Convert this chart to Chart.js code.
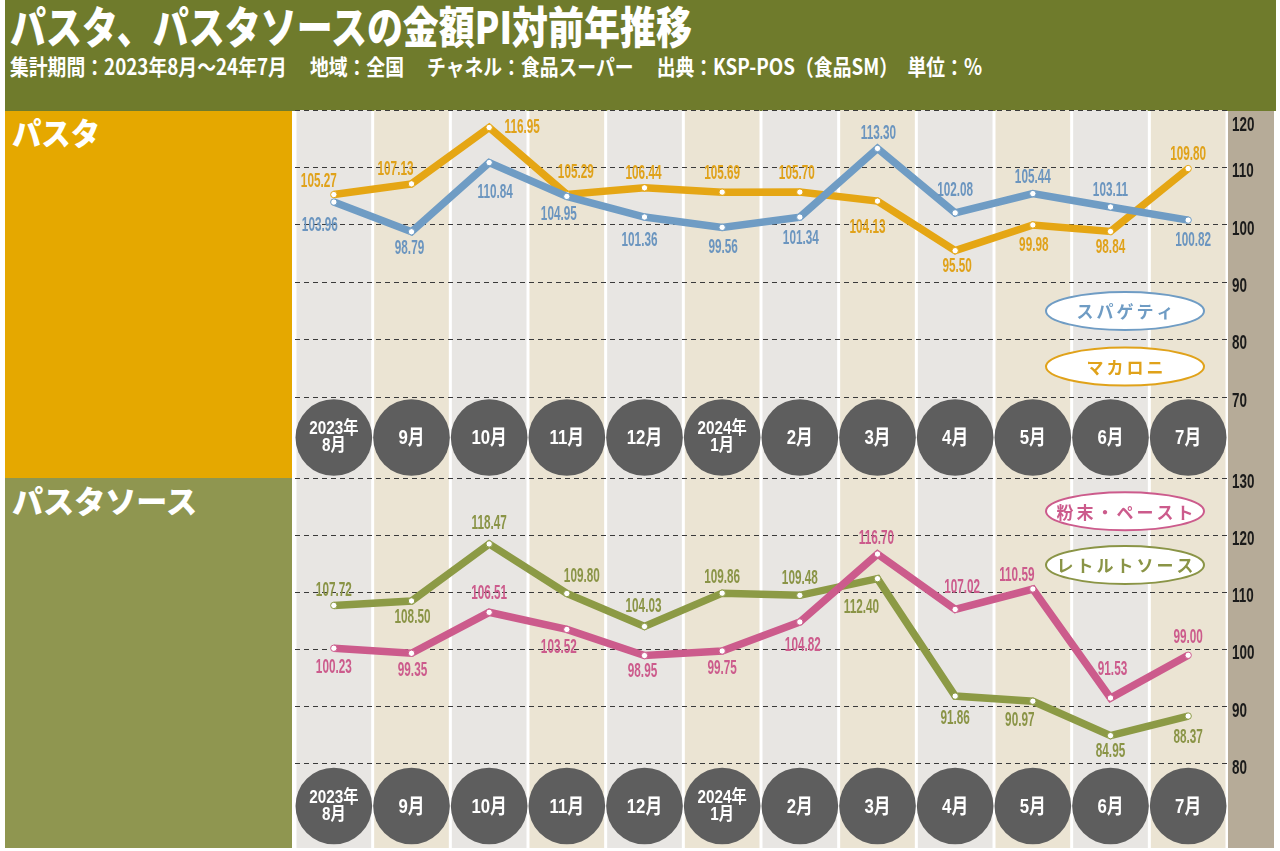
<!DOCTYPE html>
<html><head><meta charset="utf-8">
<script src="https://cdn.jsdelivr.net/npm/chart.js@4.4.1/dist/chart.umd.min.js"></script>
<style>
html,body{margin:0;padding:0}
body{width:1280px;height:851px;background:#fff;position:relative;overflow:hidden;font-family:'Noto Sans CJK JP',sans-serif}
.abs{position:absolute}
#titlebar{left:5px;top:0;width:1271px;height:111px;background:#6f7b2c}
.txt{position:absolute;color:#fff;font-weight:bold;white-space:nowrap;transform-origin:0 0;line-height:1}
#panelA{left:5px;top:111px;width:287px;height:367px;background:#e5a800}
#panelB{left:5px;top:478px;width:287px;height:370px;background:#8f9650}
#axisStrip{left:1228px;top:111px;width:46px;height:737px;background:#b6ab98}
canvas{position:absolute}
</style></head>
<body>
<div id="titlebar" class="abs"></div>
<div id="panelA" class="abs"></div>
<div id="panelB" class="abs"></div>
<div id="axisStrip" class="abs"></div>
<div class="txt" id="t1" data-w="682" style="left:10px;top:3px;font-size:44px;font-weight:900">パスタ、パスタソースの金額PI対前年推移</div>
<div class="txt" id="t2" data-w="972" style="left:10px;top:54px;font-size:22px">集計期間：2023年8月～24年7月　 地域：全国　 チャネル：食品スーパー　 出典：KSP-POS（食品SM）　単位：%</div>
<div class="txt" id="t3" data-w="88" style="left:12px;top:116px;font-size:31px;font-weight:900">パスタ</div>
<div class="txt" id="t4" data-w="185" style="left:12px;top:484px;font-size:31px;font-weight:900">パスタソース</div>
<canvas id="c1" width="985" height="368" style="left:295px;top:110px"></canvas>
<canvas id="c2" width="985" height="385" style="left:295px;top:463px"></canvas>
<script>
// ---- data ----
const categories = ['2023年8月','9月','10月','11月','12月','2024年1月','2月','3月','4月','5月','6月','7月'];
const circleLabels = [['2023年','8月'],['9月'],['10月'],['11月'],['12月'],['2024年','1月'],['2月'],['3月'],['4月'],['5月'],['6月'],['7月']];
const spaghetti   = [103.96, 98.79, 110.84, 104.95, 101.36, 99.56, 101.34, 113.30, 102.08, 105.44, 103.11, 100.82];
const macaroni    = [105.27, 107.13, 116.95, 105.29, 106.44, 105.69, 105.70, 104.13, 95.50, 99.98, 98.84, 109.80];
const powderPaste = [100.23, 99.35, 106.51, 103.52, 98.95, 99.75, 104.82, 116.70, 107.02, 110.59, 91.53, 99.00];
const retortSauce = [107.72, 108.50, 118.47, 109.80, 104.03, 109.86, 109.48, 112.40, 91.86, 90.97, 84.95, 88.37];
const pastaTicks = [70, 80, 90, 100, 110, 120];
const sauceTicks = [80, 90, 100, 110, 120, 130];

// ---- label placement (pixel offsets from each point) ----
const offSpaghetti = [[-14,23],[-2,16],[6,30],[-8,18],[-5,23],[1,20],[1,21],[1,-15],[0,-23],[0,-16],[0,-17],[5,20]];
const offMacaroni  = [[-15,-13],[-16,-15],[33,0],[9,-22],[-1,-15],[0,-19],[-3,-19],[-10,26],[2,16],[1,20],[0,16],[0,-14]];
const offPowder    = [[0,19],[1,17],[0,-19],[-8,18],[-2,16],[0,17],[3,23],[-1,-16],[7,-22],[-16,-14],[2,-29],[0,-18]];
const offRetort    = [[0,-15],[1,16],[0,-21],[15,-17],[-1,-20],[0,-16],[0,-17],[-16,29],[0,22],[-13,19],[0,16],[0,21]];

function fitText(){
  document.querySelectorAll('.txt').forEach(el=>{
    const w = el.getBoundingClientRect().width;
    const target = +el.dataset.w;
    el.style.transform = 'scaleX(' + (target / w) + ')';
  });
}
fitText();

function squeezeText(ctx, text, x, y, sx, align){
  ctx.save();
  ctx.translate(x, y);
  ctx.scale(sx, 1);
  ctx.textAlign = align || 'center';
  ctx.fillText(text, 0, 0);
  ctx.restore();
}

function makeDecor(cfg){
  return {
    id: 'decor',
    beforeDraw(chart){
      const {ctx, chartArea: a, scales: {x}} = chart;
      const w = a.width / categories.length;
      ctx.save();
      categories.forEach((c, i) => {
        const cx = x.getPixelForValue(i);
        ctx.fillStyle = i % 2 ? '#ebe4d3' : '#e8e6e3';
        ctx.fillRect(cx - w/2 + 1.5, a.top, w - 3, a.bottom - a.top);
      });
      ctx.restore();
    },
    afterDatasetsDraw(chart){
      const ctx = chart.ctx;
      ctx.save();
      ctx.font = 'bold 21px "Liberation Sans", Arial, sans-serif';
      ctx.textBaseline = 'middle';
      chart.data.datasets.forEach((ds, di) => {
        const meta = chart.getDatasetMeta(di);
        const offs = cfg.offsets[di];
        ctx.fillStyle = ds.labelColor;
        meta.data.forEach((pt, i) => {
          const v = ds.data[i];
          squeezeText(ctx, v.toFixed(2), pt.x + offs[i][0], pt.y + offs[i][1], 0.56);
        });
      });
      ctx.restore();
    },
    afterDraw(chart){
      const {ctx, chartArea: a, scales: {x, y}} = chart;
      ctx.save();
      // month circles
      const w = a.width / categories.length;
      const lowTick = cfg.ticks[0];
      const cy = (y.getPixelForValue(lowTick) + a.bottom) / 2;
      const r = Math.min(w/2 - 0.5, 38.5);
      circleLabels.forEach((lab, i) => {
        const cx = x.getPixelForValue(i);
        ctx.fillStyle = '#5e5e5e';
        ctx.beginPath(); ctx.arc(cx, cy, r, 0, Math.PI*2); ctx.fill();
        ctx.fillStyle = '#fff';
        ctx.textBaseline = 'middle';
        if (lab.length === 2){
          ctx.font = 'bold 18px "Liberation Sans", "Noto Sans CJK JP", sans-serif';
          squeezeText(ctx, lab[0], cx, cy - 8, 0.85);
          squeezeText(ctx, lab[1], cx, cy + 9, 0.85);
        } else {
          ctx.font = 'bold 21px "Liberation Sans", "Noto Sans CJK JP", sans-serif';
          squeezeText(ctx, lab[0], cx, cy + 1, 0.8);
        }
      });
      // legend ellipses
      cfg.legend.forEach(item => {
        const ex = a.right - 102, ey = y.getPixelForValue(item.at);
        ctx.beginPath();
        ctx.ellipse(ex, ey, 79, 19, 0, 0, Math.PI*2);
        ctx.fillStyle = '#fff'; ctx.fill();
        ctx.lineWidth = 2; ctx.strokeStyle = item.color; ctx.stroke();
        ctx.fillStyle = item.color;
        ctx.font = 'bold 17px "Noto Sans CJK JP", sans-serif';
        ctx.letterSpacing = '3px';
        ctx.textAlign = 'center'; ctx.textBaseline = 'middle';
        ctx.fillText(item.text, ex + 1.5, ey + 1);
        ctx.letterSpacing = '0px';
      });
      // tick labels
      ctx.fillStyle = '#1a1a1a';
      ctx.font = 'bold 21px "Liberation Sans", Arial, sans-serif';
      ctx.textBaseline = 'middle';
      cfg.ticks.forEach(t => {
        let py = y.getPixelForValue(t) + 4;
        if (py < a.top + 14) py = cfg.clampTop ? a.top + 15 : py;
        squeezeText(ctx, String(t), a.right + 5, py, 0.64, 'left');
      });
      ctx.restore();
    }
  };
}

function makeChart(id, datasets, cfg){
  return new Chart(document.getElementById(id), {
    type: 'line',
    data: {
      labels: categories,
      datasets: datasets.map(d => ({
        label: d.label, data: d.data, labelColor: d.text,
        borderColor: d.color, borderWidth: 7.5, tension: 0,
        pointRadius: 3.2, pointBackgroundColor: '#fff', pointBorderColor: d.color, pointBorderWidth: 1,
        fill: false
      }))
    },
    options: {
      responsive: false, animation: false, devicePixelRatio: 1,
      layout: {padding: {top: cfg.padTop, left: 0, right: 0, bottom: 0}, autoPadding: false},
      plugins: {legend: {display: false}, tooltip: {enabled: false}},
      scales: {
        x: {type: 'category', offset: true, display: false},
        y: {
          position: 'right', min: cfg.min, max: cfg.max,
          afterBuildTicks: axis => { axis.ticks = cfg.ticks.map(v => ({value: v})); },
          afterFit: axis => { axis.width = 53; },
          ticks: {display: false},
          grid: {color: '#3a3a3a', lineWidth: 1, drawTicks: false},
          border: {display: false, dash: [5, 4]}
        }
      }
    },
    plugins: [makeDecor(cfg)]
  });
}

makeChart('c1', [
  {label: 'スパゲティ', data: spaghetti, color: '#6f9cc4', text: '#6b95bf'},
  {label: 'マカロニ', data: macaroni, color: '#e5a614', text: '#e0a21a'}
], {
  min: 55.9, max: 120, ticks: pastaTicks, padTop: 0, clampTop: true,
  offsets: [offSpaghetti, offMacaroni],
  legend: [{text: 'スパゲティ', color: '#6f9cc4', at: 85}, {text: 'マカロニ', color: '#e0a21a', at: 75.3}]
});

makeChart('c2', [
  {label: '粉末・ペースト', data: powderPaste, color: '#cc5b8c', text: '#cc5b8c'},
  {label: 'レトルトソース', data: retortSauce, color: '#8c9a45', text: '#8a9446'}
], {
  min: 65.3, max: 130, ticks: sauceTicks, padTop: 15, clampTop: false,
  offsets: [offPowder, offRetort],
  legend: [{text: '粉末・ペースト', color: '#cc5b8c', at: 124.2}, {text: 'レトルトソース', color: '#8a9446', at: 114.8}]
});
</script>
</body></html>
